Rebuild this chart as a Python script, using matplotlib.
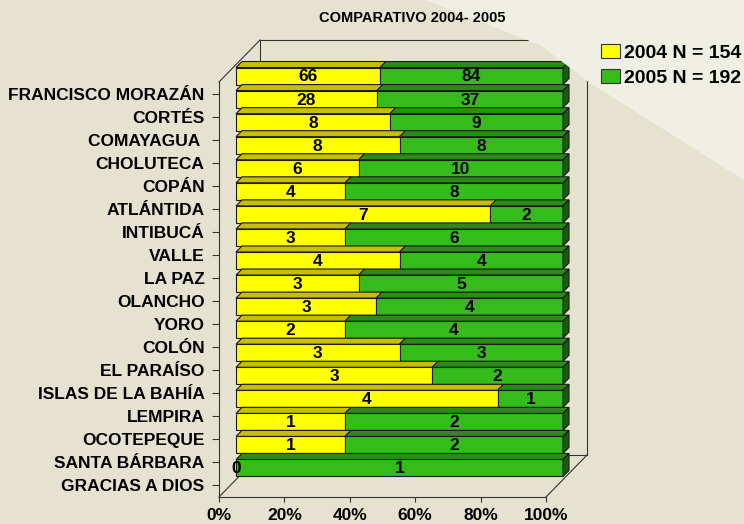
import matplotlib.pyplot as plt
from matplotlib.patches import Polygon, Patch
import numpy as np

plt.rcParams['font.family'] = ['Liberation Sans', 'DejaVu Sans']
plt.rcParams['font.weight'] = 'bold'

departamentos = ['FRANCISCO MORAZÁN', 'CORTÉS', 'COMAYAGUA ', 'CHOLUTECA', 'COPÁN',
                 'ATLÁNTIDA', 'INTIBUCÁ', 'VALLE', 'LA PAZ', 'OLANCHO', 'YORO', 'COLÓN',
                 'EL PARAÍSO', 'ISLAS DE LA BAHÍA', 'LEMPIRA', 'OCOTEPEQUE',
                 'SANTA BÁRBARA', 'GRACIAS A DIOS']
casos_2004 = [66, 28, 8, 8, 6, 4, 7, 3, 4, 3, 3, 2, 3, 3, 4, 1, 1, 0]
casos_2005 = [84, 37, 9, 8, 10, 8, 2, 6, 4, 5, 4, 4, 3, 2, 1, 2, 2, 1]
anios = ['2004', '2005']
xticks = [0, 20, 40, 60, 80, 100]
titulo = 'COMPARATIVO 2004- 2005'

W, H = 744, 524
fig = plt.figure(figsize=(W / 100, H / 100), dpi=100)
fig.patch.set_facecolor('#E5E3D0')

# lighter band of the slide background
band = [(425, 0), (744, 0), (744, 180), (590, 83), (540, 45)]
fig.patches.append(Polygon([(x / W, 1 - y / H) for x, y in band], closed=True,
                           transform=fig.transFigure, fc='#EFEFE4', ec='none', zorder=0))

ax = fig.add_axes([219 / W, 27 / H, 327 / W, 415 / H])
ax.patch.set_alpha(0)
n = len(departamentos)
ax.set_xlim(0, 100)
ax.set_ylim(n - 0.5, -0.5)

# pixel -> data units
px_x = 100 / 327
px_y = n / 415

# depth of the box, shift of bars and bar thickness
Dx, Dy = 41 * px_x, -42 * px_y
sx, sy = 17 * px_x, -17.5 * px_y
tx, ty = 6 * px_x, -6 * px_y
bh = 17 * px_y

a = np.array(casos_2004, dtype=float)
b = np.array(casos_2005, dtype=float)
tot = a + b
p04 = a / tot * 100
p05 = b / tot * 100
y = np.arange(n)
yb = y + sy

# box lines
lc = '#333333'
top, bot = -0.5, n - 0.5
segs = [((0, top), (Dx, top + Dy)),
        ((Dx, top + Dy), (100 + Dx, top + Dy)),
        ((100 + Dx, top + Dy), (100 + Dx, bot + Dy)),
        ((Dx, top + Dy), (Dx, bot + Dy)),
        ((Dx, bot + Dy), (100 + Dx, bot + Dy)),
        ((0, bot), (Dx, bot + Dy)),
        ((100, bot), (100 + Dx, bot + Dy))]
for (x0, y0), (x1, y1) in segs:
    ax.plot([x0, x1], [y0, y1], color=lc, lw=0.8, zorder=1, clip_on=False)

amarillo, amarillo_top = '#FFFF00', '#C8BE00'
verde, verde_top, verde_lado = '#33BC1A', '#2A8C16', '#1C5A0E'
ec = '#1A1A1A'

ax.barh(yb, p04, height=bh, left=sx, color=amarillo, edgecolor=ec, lw=0.8,
        clip_on=False, zorder=3)
ax.barh(yb, p05, height=bh, left=sx + p04, color=verde, edgecolor=ec, lw=0.8,
        clip_on=False, zorder=3)

for i in range(n):
    t = yb[i] - bh / 2
    bo = yb[i] + bh / 2
    for l, w, c in [(sx, p04[i], amarillo_top), (sx + p04[i], p05[i], verde_top)]:
        if w <= 0:
            continue
        ax.add_patch(Polygon([(l, t), (l + w, t), (l + w + tx, t + ty), (l + tx, t + ty)],
                             closed=True, fc=c, ec=ec, lw=0.8, zorder=3, clip_on=False))
    xr = sx + 100
    ax.add_patch(Polygon([(xr, t), (xr + tx, t + ty), (xr + tx, bo + ty), (xr, bo)],
                         closed=True, fc=verde_lado, ec=ec, lw=0.8, zorder=3, clip_on=False))
    ax.text(sx + p04[i] / 2, yb[i] + 0.04, str(casos_2004[i]), ha='center', va='center',
            fontsize=12.5, fontweight='bold', zorder=5, clip_on=False)
    ax.text(sx + p04[i] + p05[i] / 2, yb[i] + 0.04, str(casos_2005[i]), ha='center',
            va='center', fontsize=12.5, fontweight='bold', zorder=5, clip_on=False)

for s in ['top', 'right']:
    ax.spines[s].set_visible(False)
for s in ['left', 'bottom']:
    ax.spines[s].set_color(lc)
    ax.spines[s].set_linewidth(0.8)

ax.set_yticks(y, departamentos)
ax.set_xticks(xticks, [f'{v}%' for v in xticks])
ax.tick_params(axis='y', length=5, width=0.8, color=lc, pad=5.5, labelsize=12.5)
ax.tick_params(axis='x', length=3.6, width=0.8, color=lc, pad=4.5, labelsize=12.5)
for lab in ax.get_xticklabels() + ax.get_yticklabels():
    lab.set_fontweight('bold')

fig.text(412 / W, 1 - 18 / H, titulo, ha='center', va='center', fontsize=10.5,
         fontweight='bold')

handles = [Patch(fc=amarillo, ec='#333333', lw=0.8), Patch(fc=verde, ec='#333333', lw=0.8)]
etiquetas = [f'{anios[0]} N = {sum(casos_2004)}', f'{anios[1]} N = {sum(casos_2005)}']
fig.legend(handles, etiquetas, loc='upper left', bbox_to_anchor=(601 / W, 1 - 44 / H),
           frameon=False, prop={'size': 14, 'weight': 'bold'}, handlelength=1.0,
           handleheight=0.7, handletextpad=0.2, labelspacing=0.4, borderpad=0,
           borderaxespad=0)

fig.savefig('out.png', dpi=100)
